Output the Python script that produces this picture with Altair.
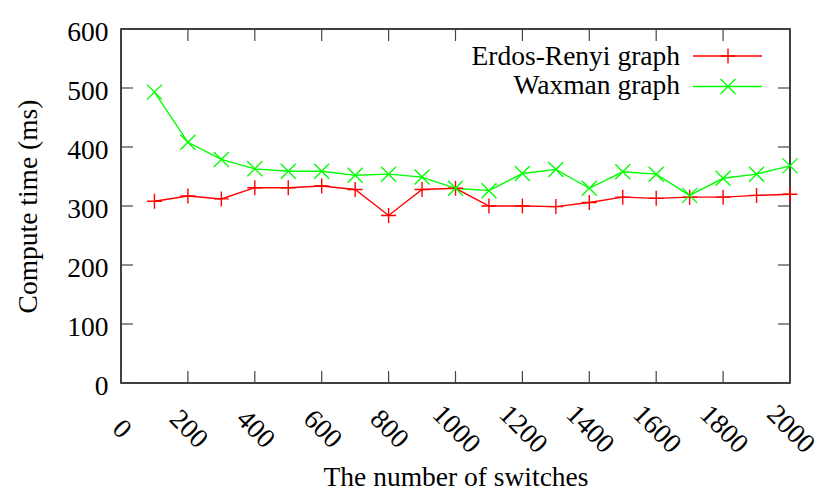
import altair as alt
import pandas as pd

# ---- data ----
switches = [100, 200, 300, 400, 500, 600, 700, 800, 900, 1000,
            1100, 1200, 1300, 1400, 1500, 1600, 1700, 1800, 1900, 2000]
erdos = [308, 317, 312, 331, 331, 334, 328, 284, 328, 330,
         300, 300, 299, 306, 315, 313, 315, 315, 318, 320]
waxman = [493, 408, 379, 363, 359, 359, 352, 354, 349, 330,
          326, 355, 362, 330, 358, 354, 318, 347, 354, 368]
series_names = ["Erdos-Renyi graph", "Waxman graph"]
series_colors = ["#ff0000", "#00ff00"]
x_ticks = [0, 200, 400, 600, 800, 1000, 1200, 1400, 1600, 1800, 2000]
y_ticks = [0, 100, 200, 300, 400, 500, 600]

PLUS = "M-1,0L1,0M0,-1L0,1"
CROSS = "M-1,-1L1,1M-1,1L1,-1"
shapes = [PLUS, CROSS]

W, H = 669, 354
FONT = "'Liberation Serif', 'Times New Roman', 'DejaVu Serif', serif"
FS = 27.5
TICK = 12

rows = []
for name, vals in zip(series_names, [erdos, waxman]):
    for xv, yv in zip(switches, vals):
        rows.append({"switches": xv, "time": yv, "series": name})
df = pd.DataFrame(rows)

xscale = alt.Scale(domain=[0, 2000], nice=False, zero=False)
yscale = alt.Scale(domain=[0, 600], nice=False)

xaxis = alt.Axis(values=x_ticks, format="d", ticks=False, tickSize=0, domain=False, grid=False,
                 labelAngle=45, labelAlign="center", labelBaseline="middle",
                 labelPadding=46, labelFont=FONT, labelFontSize=FS,
                 labelColor="black",
                 title="The number of switches", titleFont=FONT, titleFontSize=FS,
                 titleFontWeight="normal", titleColor="black",
                 titleY=102, titleBaseline="alphabetic", labelFlush=False,
                 labelOverlap=False)
yaxis = alt.Axis(values=y_ticks, format="d", ticks=False, tickSize=0, domain=False, grid=False,
                 labelPadding=13, labelFont=FONT, labelFontSize=FS, labelColor="black",
                 labelBaseline="middle", labelOffset=3,
                 title="Compute time (ms)", titleFont=FONT, titleFontSize=FS,
                 titleFontWeight="normal", titleColor="black",
                 titleX=-85, titleY=H / 2, titleAngle=270, titleAlign="center",
                 titleBaseline="alphabetic", labelFlush=False, labelOverlap=False)

color = alt.Color("series:N", scale=alt.Scale(domain=series_names, range=series_colors),
                  legend=None)

lines = alt.Chart(df).mark_line(strokeWidth=1.4).encode(
    x=alt.X("switches:Q", scale=xscale, axis=xaxis),
    y=alt.Y("time:Q", scale=yscale, axis=yaxis),
    color=color,
    detail="series:N",
)
points = alt.Chart(df).mark_point(filled=False, size=225, strokeWidth=1.4, opacity=1).encode(
    x=alt.X("switches:Q", scale=xscale, axis=xaxis),
    y=alt.Y("time:Q", scale=yscale, axis=yaxis),
    color=color,
    shape=alt.Shape("series:N", scale=alt.Scale(domain=series_names, range=shapes), legend=None),
)

xt = pd.DataFrame({"t": x_ticks})
yt = pd.DataFrame({"v": y_ticks})
tick_style = dict(color="#444444", strokeWidth=1.2)
bottom_ticks = alt.Chart(xt).mark_rule(**tick_style).encode(
    x=alt.X("t:Q", scale=xscale, axis=xaxis), y=alt.value(H), y2=alt.value(H - TICK))
top_ticks = alt.Chart(xt).mark_rule(**tick_style).encode(
    x=alt.X("t:Q", scale=xscale, axis=xaxis), y=alt.value(0), y2=alt.value(TICK))
left_ticks = alt.Chart(yt).mark_rule(**tick_style).encode(
    y=alt.Y("v:Q", scale=yscale, axis=yaxis), x=alt.value(0), x2=alt.value(TICK))
right_ticks = alt.Chart(yt).mark_rule(**tick_style).encode(
    y=alt.Y("v:Q", scale=yscale, axis=yaxis), x=alt.value(W - TICK), x2=alt.value(W))

# ---- legend (inside, top right) ----
legend_layers = []
for i, name in enumerate(series_names):
    ld = pd.DataFrame({"label": [name]})
    ty = 36 + i * 29
    ly = 27 + i * 30.5
    legend_layers.append(alt.Chart(ld).mark_text(
        align="right", baseline="alphabetic", font=FONT, fontSize=FS, color="black"
    ).encode(text="label:N", x=alt.value(559), y=alt.value(ty)))
    legend_layers.append(alt.Chart(ld).mark_rule(color=series_colors[i], strokeWidth=1.4).encode(
        x=alt.value(572), x2=alt.value(641), y=alt.value(ly)))
    legend_layers.append(alt.Chart(ld).mark_point(
        shape=shapes[i], size=225, filled=False, strokeWidth=1.4, opacity=1,
        color=series_colors[i]).encode(x=alt.value(607), y=alt.value(ly)))

chart = alt.layer(
    lines, points, bottom_ticks, top_ticks, left_ticks, right_ticks, *legend_layers
).properties(
    width=W, height=H,
    autosize=alt.AutoSizeParams(type="none"),
    padding={"left": 113, "top": 21, "right": 32, "bottom": 107},
    background="white",
).configure_view(stroke="black", strokeWidth=1.5)

chart.save("out.html", embed_options={"renderer": "svg", "actions": False})
